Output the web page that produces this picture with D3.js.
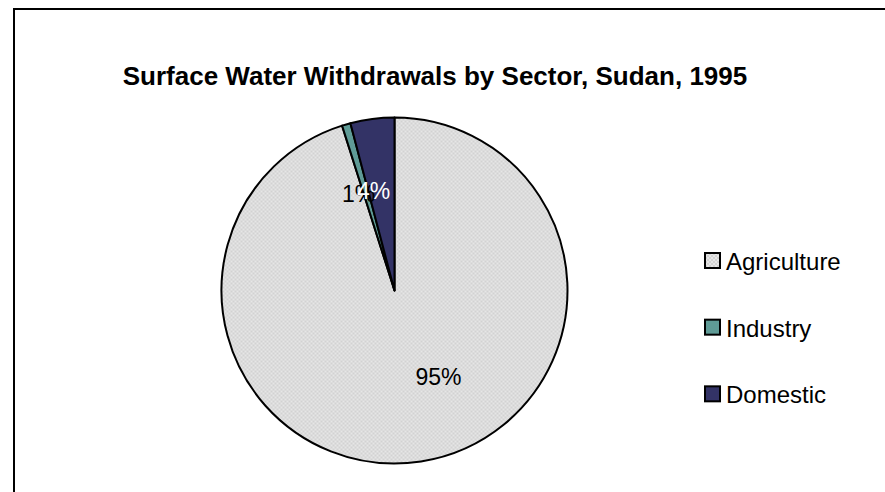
<!DOCTYPE html>
<html>
<head>
<meta charset="utf-8">
<script src="https://cdn.jsdelivr.net/npm/d3@7"></script>
<style>
  body { margin: 0; background: #fff; overflow: hidden; }
  svg { display: block; font-family: "Liberation Sans", Arial, sans-serif; }
</style>
</head>
<body>
<svg id="chart" width="885" height="492"></svg>
<script>
let title = 'Surface Water Withdrawals by Sector, Sudan, 1995'
let sectors = ['Agriculture', 'Industry', 'Domestic']
let shares = [95.1, 0.8, 4.1]
let sectorColors = ['url(#agriPattern)', '#5f9b96', '#333366']
let labelColors = ['#000', '#000', '#fff']

let width = 885
let height = 492
let cx = 394.5
let cy = 290.5
let radius = 173

let svg = d3.select('#chart')

// dotted light grey fill like the original
let defs = svg.append('defs')
let pat = defs.append('pattern')
    .attr('id', 'agriPattern')
    .attr('width', 4).attr('height', 4)
    .attr('patternUnits', 'userSpaceOnUse')
pat.append('rect').attr('width', 4).attr('height', 4).attr('fill', '#e6e6e6')
pat.append('rect').attr('width', 2).attr('height', 2).attr('fill', '#d2d2d2')
pat.append('rect').attr('x', 2).attr('y', 2).attr('width', 2).attr('height', 2).attr('fill', '#d2d2d2')

// chart frame, only its top and left edges are inside the picture
svg.append('path')
   .attr('d', 'M14,' + (height + 5) + 'V9H' + (width + 5))
   .attr('fill', 'none')
   .attr('stroke', '#000')
   .attr('stroke-width', 2)

svg.append('text')
   .text(title)
   .attr('x', 435)
   .attr('y', 85)
   .attr('text-anchor', 'middle')
   .attr('font-weight', 'bold')
   .attr('font-size', 26)

let data = sectors.map((s, i) => ({name: s, value: shares[i], color: sectorColors[i], label: labelColors[i]}))

let pie = d3.pie().sort(null).value(d => d.value)
let arcs = pie(data)
let arc = d3.arc().innerRadius(0).outerRadius(radius)
let labelArc = d3.arc().innerRadius(radius * 0.58).outerRadius(radius * 0.58)

let g = svg.append('g').attr('transform', 'translate(' + cx + ',' + cy + ')')

g.selectAll('path')
 .data(arcs)
 .enter()
 .append('path')
 .attr('d', arc)
 .attr('fill', d => d.data.color)
 .attr('stroke', '#000')
 .attr('stroke-width', 2)
 .attr('stroke-linejoin', 'round')

let total = d3.sum(shares)

g.selectAll('text')
 .data(arcs)
 .enter()
 .append('text')
 .text(d => Math.round(d.data.value / total * 100) + '%')
 .attr('transform', d => {
    let p
    if (d.endAngle - d.startAngle > Math.PI) {
        // big slice label sits a bit off its middle, as in the source
        let a = d.startAngle + (d.endAngle - d.startAngle) * 0.447
        p = [Math.sin(a) * radius * 0.56, -Math.cos(a) * radius * 0.56]
    } else {
        p = labelArc.centroid(d)
        p[0] = p[0] - 8
    }
    return 'translate(' + p[0] + ',' + p[1] + ')'
 })
 .attr('text-anchor', 'middle')
 .attr('dy', '0.35em')
 .attr('font-size', 23)
 .attr('fill', d => d.data.label)

// legend
let legend = svg.append('g').attr('transform', 'translate(705,253)')
let row = d3.scaleBand().domain(sectors).range([0, 200])

let item = legend.selectAll('g')
    .data(data)
    .enter()
    .append('g')
    .attr('transform', d => 'translate(0,' + row(d.name) + ')')

item.append('rect')
    .attr('width', 15).attr('height', 15)
    .attr('fill', d => d.color)
    .attr('stroke', '#000')
    .attr('stroke-width', 2)

item.append('text')
    .text(d => d.name)
    .attr('x', 21)
    .attr('y', 17)
    .attr('font-size', 24)
</script>
</body>
</html>
